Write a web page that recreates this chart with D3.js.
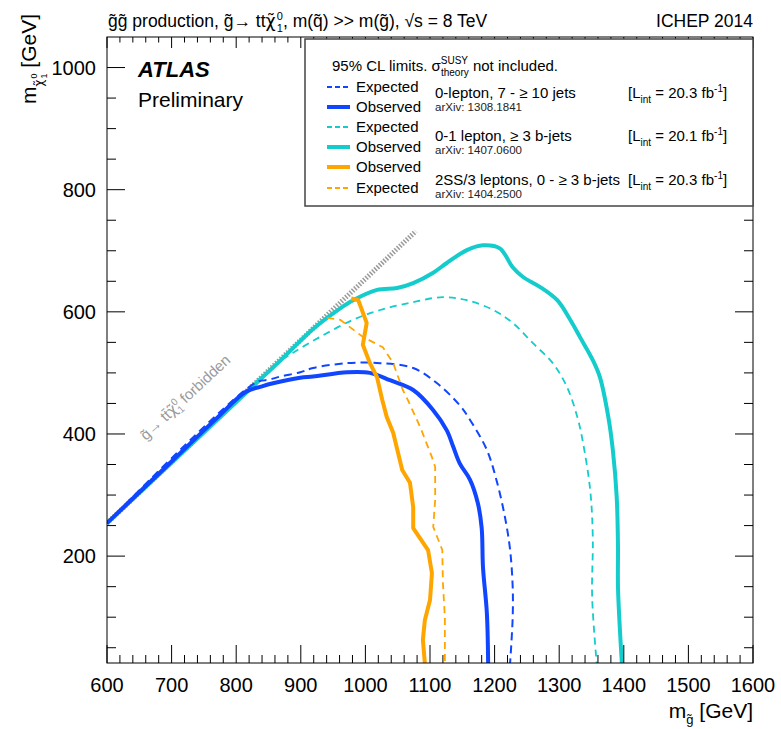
<!DOCTYPE html>
<html><head><meta charset="utf-8">
<script src="https://cdn.jsdelivr.net/npm/d3@7/dist/d3.min.js"></script>
<style>body{margin:0;background:#fff}svg{font-family:"Liberation Sans",Arial,Helvetica,sans-serif}</style>
</head><body><svg id="c" width="781" height="729"></svg>
<script>
// ---- data (m_gluino, m_neutralino) in GeV ----
const xTicks = [600,700,800,900,1000,1100,1200,1300,1400,1500,1600];
const yTicks = [200,400,600,800,1000];
const forbiddenLine = [[600,254],[1078,732]];
const blueExp = [[600,254],[830,484],[852,489],[868,494],[899,501],[919,508],[972,516],[1023,516],[1074,508],[1111,483],[1146,447],[1162,423],[1188,374],[1204,320],[1216,264],[1224,210],[1228,149],[1228,100],[1224,25]];
const blueObs = [[600,254],[702,357],[770,426],[815,469],[840,478],[857,483],[899,492],[919,494],[972,501],[1007,500],[1038,488],[1074,472],[1105,439],[1126,406],[1136,379],[1146,352],[1162,325],[1174,287],[1180,246],[1182,182],[1188,107],[1190,25]];
const cyanExp = [[600,254],[860,513],[888,533],[930,559],[981,587],[1023,603],[1074,616],[1120,624],[1157,619],[1198,603],[1228,582],[1259,549],[1290,516],[1312,477],[1328,428],[1337,385],[1348,308],[1352,231],[1351,133],[1358,25]];
const cyanObs = [[600,254],[868,520],[919,572],[960,605],[981,619],[1018,636],[1049,639],[1074,647],[1105,664],[1126,680],[1157,701],[1182,709],[1208,704],[1228,673],[1244,657],[1270,641],[1297,619],[1317,587],[1332,559],[1352,521],[1363,493],[1376,428],[1383,374],[1389,297],[1391,215],[1391,149],[1397,25]];
const orangeObs = [[978,622],[989,619],[1002,582],[996,546],[1007,516],[1018,493],[1026,456],[1033,428],[1043,402],[1057,341],[1069,320],[1074,280],[1074,246],[1097,210],[1103,172],[1100,128],[1092,95],[1089,63],[1092,25]];
const orangeExp = [[941,590],[961,587],[976,575],[996,559],[1027,542],[1043,516],[1058,472],[1066,455],[1085,411],[1103,362],[1108,346],[1108,292],[1105,248],[1119,210],[1120,156],[1123,100],[1123,25]];

const svg = d3.select("#c");
const L=107, R=753, T=37, B=663;
const x = d3.scaleLinear().domain([600,1600]).range([L,R]);
const y = d3.scaleLinear().domain([25,1050]).range([B,T]);

svg.append("defs").append("clipPath").attr("id","clip")
  .append("rect").attr("x",L).attr("y",T).attr("width",R-L).attr("height",B-T);

const plot = svg.append("g").attr("clip-path","url(#clip)");
const line = d3.line().x(d=>x(d[0])).y(d=>y(d[1]));
const smooth = d3.line().x(d=>x(d[0])).y(d=>y(d[1])).curve(d3.curveCatmullRom.alpha(0.5));

const BLUE="#1046ff", CYAN="#14cccc", ORANGE="#ffa500";

plot.append("path").datum(forbiddenLine).attr("d",line)
  .attr("fill","none").attr("stroke","#9a9a9a").attr("stroke-width",5).attr("stroke-dasharray","1.5,1.6");

function draw(data, color, w, dash, gen){
  const p = plot.append("path").datum(data).attr("d",gen||smooth)
    .attr("fill","none").attr("stroke",color).attr("stroke-width",w)
    .attr("stroke-linejoin","round");
  if(dash) p.attr("stroke-dasharray",dash);
}
draw(cyanExp, CYAN, 1.8, "7,5");
draw(cyanObs, CYAN, 4);
draw(blueExp, BLUE, 2, "8,5");
draw(blueObs, BLUE, 4);
draw(orangeExp, ORANGE, 1.8, "7,5", line);
draw(orangeObs, ORANGE, 4, null, line);

// chi with combining tilde, in a font with good mark positioning
const CHI = '<tspan font-family="DejaVu Sans">\u03c7\u0303</tspan>';

// forbidden label
svg.append("text").attr("transform",`translate(146,441) rotate(-43)`)
  .attr("font-size",15).attr("fill","#9a9a9a")
  .html('g\u0303\u2192 tt\u0304'+CHI+'<tspan dy="-6" font-size="10">0</tspan><tspan dx="-5.5" dy="10" font-size="10">1</tspan><tspan dy="-4"> forbidden</tspan>');

// ---- axes frame & ticks ----
const ax = svg.append("g").attr("stroke","#000").attr("stroke-width",1);
ax.append("rect").attr("x",L).attr("y",T).attr("width",R-L).attr("height",B-T).attr("fill","none");
const xMinor = d3.range(600,1601,20);
const yMinor = d3.range(50,1050,50);
xMinor.forEach(v=>{
  const major = v%100===0;
  ax.append("line").attr("x1",x(v)).attr("x2",x(v)).attr("y1",B).attr("y2",B-(major?18:8));
  ax.append("line").attr("x1",x(v)).attr("x2",x(v)).attr("y1",T).attr("y2",T+(major?11:5.5));
});
yMinor.forEach(v=>{
  const major = v%200===0;
  ax.append("line").attr("y1",y(v)).attr("y2",y(v)).attr("x1",L).attr("x2",L+(major?18:9));
  ax.append("line").attr("y1",y(v)).attr("y2",y(v)).attr("x1",R).attr("x2",R-(major?18:9));
});
svg.append("g").selectAll("text").data(xTicks).join("text")
  .attr("x",d=>x(d)).attr("y",692).attr("text-anchor","middle").attr("font-size",20).text(d=>d);
svg.append("g").selectAll("text").data(yTicks).join("text")
  .attr("x",96).attr("y",d=>y(d)+7).attr("text-anchor","end").attr("font-size",20).text(d=>d);

// axis titles
svg.append("text").attr("x",R).attr("y",718).attr("text-anchor","end").attr("font-size",21)
  .html('m<tspan dy="6" font-size="13">g\u0303</tspan><tspan dy="-6"> [GeV]</tspan>');
svg.append("text").attr("transform","translate(36,14) rotate(-90)").attr("text-anchor","end").attr("font-size",21)
  .html('m<tspan dy="7" font-size="12">'+CHI+'</tspan><tspan dy="-6" dx="1" font-size="9">0</tspan><tspan dx="-5" dy="10" font-size="9">1</tspan><tspan dy="-11"> [GeV]</tspan>');

// title
svg.append("text").attr("x",108).attr("y",27).attr("font-size",17.5)
  .html('g\u0303g\u0303 production, g\u0303\u2192 tt'+CHI+'<tspan dy="-7" dx="1" font-size="11">0</tspan><tspan dx="-6" dy="12" font-size="11">1</tspan><tspan dy="-5">, m(q\u0303) &gt;&gt; m(g\u0303), \u221as = 8 TeV</tspan>');
svg.append("text").attr("x",R).attr("y",27).attr("text-anchor","end").attr("font-size",17.5).text("ICHEP 2014");

// ATLAS
svg.append("text").attr("x",138).attr("y",77).attr("font-size",22).attr("font-weight","bold").attr("font-style","italic").text("ATLAS");
svg.append("text").attr("x",138).attr("y",107).attr("font-size",21).text("Preliminary");

// ---- legend ----
const lg = svg.append("g");
lg.append("rect").attr("x",305).attr("y",39).attr("width",448).attr("height",167)
  .attr("fill","#fff").attr("stroke","#444").attr("stroke-width",1.5);
lg.append("text").attr("x",332).attr("y",71).attr("font-size",15)
  .html('95% CL limits. \u03c3<tspan dy="-7" font-size="10">SUSY</tspan><tspan dx="-27" dy="12" font-size="10">theory</tspan><tspan dy="-5"> not included.</tspan>');
const entries = [
  {label:"Expected", color:BLUE, w:2, dash:"5,3", yy:87},
  {label:"Observed", color:BLUE, w:4, dash:null, yy:107},
  {label:"Expected", color:CYAN, w:2, dash:"5,3", yy:127},
  {label:"Observed", color:CYAN, w:4, dash:null, yy:147},
  {label:"Observed", color:ORANGE, w:4, dash:null, yy:167},
  {label:"Expected", color:ORANGE, w:2, dash:"5,3", yy:188}
];
entries.forEach(e=>{
  const l = lg.append("line").attr("x1",327).attr("x2",350).attr("y1",e.yy).attr("y2",e.yy)
    .attr("stroke",e.color).attr("stroke-width",e.w);
  if(e.dash) l.attr("stroke-dasharray",e.dash);
  lg.append("text").attr("x",356).attr("y",e.yy+5).attr("font-size",15).text(e.label);
});
const groups = [
  {t:"0-lepton, 7 - \u2265 10 jets", arx:"arXiv: 1308.1841", lum:"20.3", yy:98},
  {t:"0-1 lepton, \u2265 3 b-jets", arx:"arXiv: 1407.0600", lum:"20.1", yy:141},
  {t:"2SS/3 leptons, 0 - \u2265 3 b-jets", arx:"arXiv: 1404.2500", lum:"20.3", yy:185}
];
groups.forEach(g=>{
  lg.append("text").attr("x",435).attr("y",g.yy).attr("font-size",15).text(g.t);
  lg.append("text").attr("x",435).attr("y",g.yy+13).attr("font-size",11.5).attr("fill","#222").text(g.arx);
  lg.append("text").attr("x",628).attr("y",g.yy).attr("font-size",15)
    .html(`[L<tspan dy="5" font-size="10">int</tspan><tspan dy="-5"> = ${g.lum} fb</tspan><tspan dy="-6" font-size="10">-1</tspan><tspan dy="6">]</tspan>`);
});
</script></body></html>
